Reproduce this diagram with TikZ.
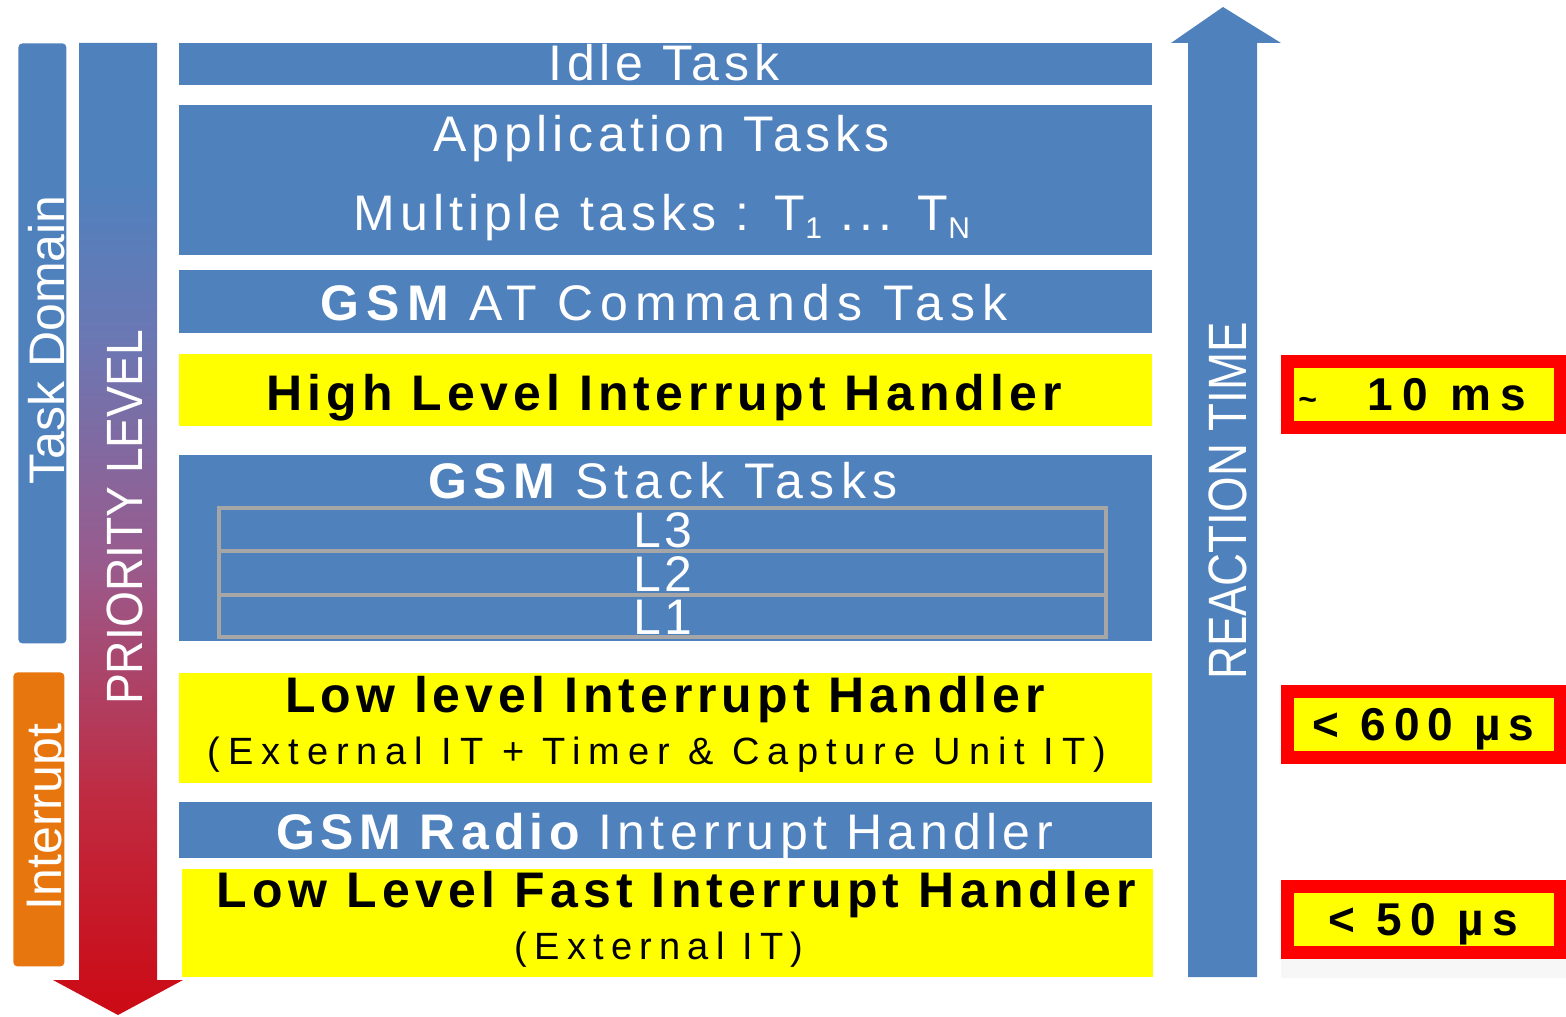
\documentclass[tikz,border=0pt]{standalone}
\usepackage{fontspec}
\setmainfont{Liberation Sans}
\usepackage{graphicx}

\definecolor{barblue}{HTML}{4F81BD}
\definecolor{baryellow}{HTML}{FFFF00}
\definecolor{boxred}{HTML}{FF0000}
\definecolor{irqorange}{HTML}{E8760F}
\definecolor{gridgray}{HTML}{A6A6A6}
\definecolor{prioA}{HTML}{4F81BD}
\definecolor{prioB}{HTML}{6A78B4}
\definecolor{prioC}{HTML}{9A5A8C}
\definecolor{prioD}{HTML}{C02A40}
\definecolor{prioE}{HTML}{CC0A14}

% priority arrow: blue at the top, red at the tip
\pgfdeclareverticalshading{priority}{100bp}{%
  color(0bp)=(prioE); color(25bp)=(prioE); color(36bp)=(prioD);
  color(48bp)=(prioC); color(60bp)=(prioB); color(68bp)=(prioA);
  color(75bp)=(prioA); color(100bp)=(prioA)}

\newcommand\ls[1]{\addfontfeatures{LetterSpace=#1}}
\newcommand\mainsize{\fontsize{25}{30}\selectfont}
\newcommand\smallsize{\fontsize{19}{23}\selectfont}
\newcommand\tagsize{\fontsize{23}{28}\selectfont}
\newcommand\sub[1]{\raisebox{-4pt}{\fontsize{15}{15}\selectfont #1}}

\tikzset{
  bar/.style={rectangle, inner sep=0pt, anchor=north west, minimum width=486.5pt},
  taskbar/.style={bar, fill=barblue},
  irqbar/.style={bar, fill=baryellow},
  layer/.style={rectangle, inner sep=0pt, draw=gridgray, line width=1.75pt,
    minimum width=443.5pt, anchor=north west},
  wlabel/.style={inner sep=0pt, anchor=base, text=white, font=\mainsize},
  klabel/.style={inner sep=0pt, anchor=base, text=black, font=\mainsize},
  layerlabel/.style={wlabel, text height=18pt, text depth=0pt},
  side/.style={rectangle, rounded corners=2pt, inner sep=0pt, anchor=north west},
  vlabel/.style={inner sep=0pt, anchor=base, rotate=90, text=white},
  tagbox/.style={rectangle, fill=baryellow, draw=boxred, line width=6.25pt,
    inner sep=0pt, anchor=north west, minimum width=136.25pt, minimum height=33pt,
    text height=16.5pt, text depth=0pt, font=\tagsize\bfseries},
}

\begin{document}
\begin{tikzpicture}[x=0.5pt, y=-0.5pt]
\useasboundingbox (0,0) rectangle (1566,1016);
\fill[white] (0,0) rectangle (1566,1016);

% side domains
\node[side, fill=barblue, minimum width=24pt, minimum height=300pt] (taskdom) at (18,43) {};
\node[side, fill=irqorange, minimum width=25.5pt, minimum height=147pt] (irqdom) at (13,672) {};
\node[vlabel, font=\fontsize{25}{30}\selectfont] (taskdomlbl) at (64,340) {Task Domain};
\node[vlabel, font=\fontsize{25}{30}\selectfont] (irqdomlbl) at (61,817) {Interrupt};

% priority arrow
\shade[shading=priority] (79,43) -- (157,43) -- (157,980) -- (183,980) -- (118,1015)
  -- (53,980) -- (79,980) -- cycle;
\node[vlabel, font=\fontsize{25.5}{30}\selectfont] (priolbl) at (142,517.5)
  {\scalebox{0.906}[1]{PRIORITY LEVEL}};

% reaction time arrow
\fill[barblue] (1188,977) -- (1257,977) -- (1257,43) -- (1281,43) -- (1223,7)
  -- (1171,43) -- (1188,43) -- cycle;
\node[vlabel, font=\fontsize{27}{32}\selectfont] (reactlbl) at (1246,501)
  {\scalebox{0.846}[1]{REACTION TIME}};

% priority layers
\node[taskbar, minimum height=21pt] (idle) at (179,43) {};
\node[taskbar, minimum height=75pt] (app) at (179,105) {};
\node[taskbar, minimum height=31.5pt] (atcmd) at (179,270) {};
\node[irqbar, minimum height=36pt] (high) at (179,354) {};
\node[taskbar, minimum height=93pt] (stack) at (179,455) {};
\node[irqbar, minimum height=55pt] (low) at (179,673) {};
\node[taskbar, minimum height=28pt] (radio) at (179,802) {};
\node[irqbar, minimum height=54pt, minimum width=485.5pt] (fast) at (182,869) {};

% GSM stack layers
\node[layer, minimum height=21.5pt] (l3) at (217,506) {};
\node[layer, minimum height=22pt] (l2) at (217,549) {};
\node[layer, minimum height=21pt] (l1) at (217,593) {};

% layer texts
\node[wlabel] (idlelbl) at (664,81) {\ls{9.5}Idle Task};
\node[wlabel] (applbl) at (662,152) {\ls{9.3}Application Tasks};
\node[wlabel] (multilbl) at (662,230) {\ls{10}Multiple tasks : T\sub{1} ... T\sub{N}};
\node[wlabel] (atlbl) at (664,320) {\ls{14}{\bfseries GSM} AT Commands Task};
\node[klabel] (highlbl) at (664,410) {\bfseries\ls{10.3}High Level Interrupt Handler};
\node[wlabel] (stacklbl) at (663,498) {\ls{12.3}{\bfseries GSM} Stack Tasks};
\node[layerlabel] (l3lbl) at (663,547) {\ls{6}L3};
\node[layerlabel] (l2lbl) at (663,591) {\ls{6}L2};
\node[layerlabel] (l1lbl) at (663,634) {\ls{6}L1};
\node[klabel] (lowlbl) at (665,712) {\bfseries\ls{10}Low level Interrupt Handler};
\node[klabel, font=\smallsize] (lowsub) at (657,764)
  {\ls{20.9}(External IT + Timer \& Capture Unit IT)};
\node[wlabel] (radiolbl) at (664.5,849) {\ls{10.5}{\bfseries GSM Radio} Interrupt Handler};
\node[klabel] (fastlbl) at (676.5,907) {\bfseries\ls{10.5}Low Level Fast Interrupt Handler};
\node[klabel, font=\smallsize] (fastsub) at (659,959) {\ls{19}(External IT)};

% reaction time figures
\fill[black!3] (1281,959) rectangle (1566,978);
\node[tagbox] (t10ms) at (1281,355)
  {\ls{21}{\fontsize{16}{16}\selectfont\textasciitilde}\kern 25pt 10 ms\kern 11pt};
\node[tagbox] (t600us) at (1281,685) {\ls{17.6}< 600 µs};
\node[tagbox] (t50us) at (1281,880) {\ls{18.5}< 50 µs};
\end{tikzpicture}
\end{document}
